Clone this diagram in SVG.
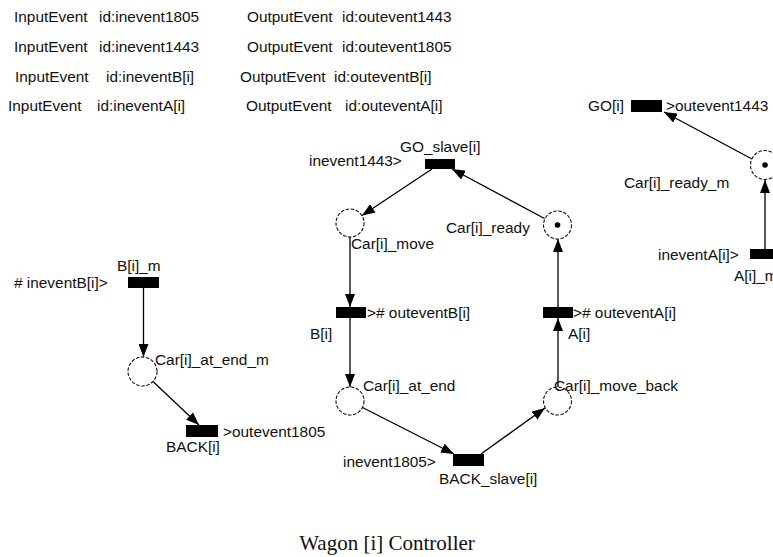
<svg xmlns="http://www.w3.org/2000/svg" width="773" height="557" viewBox="0 0 773 557">
  <style>
    text { font-family: "Liberation Sans", Arial, sans-serif; font-size: 15.4px; fill: #111; }
    .title { font-family: "Liberation Serif", "Times New Roman", serif; font-size: 21px; }
    .place { fill: #fff; stroke: #111; stroke-width: 1.1; stroke-dasharray: 3.5 1.6; }
    .token { fill: #000; }
    .trans { fill: #000; }
    .arc { fill: none; stroke: #000; stroke-width: 1.3; marker-end: url(#arrow); }
  </style>
  <defs>
    <marker id="arrow" markerUnits="userSpaceOnUse" markerWidth="13" markerHeight="10" refX="13" refY="5" orient="auto">
      <path d="M0,0 L13,5 L0,10 z" fill="#000"/>
    </marker>
  </defs>
  <rect width="773" height="557" fill="#fff"/>

  <!-- event declarations -->
  <g id="declarations">
    <text x="14" y="22">InputEvent</text>
    <text x="99" y="22">id:inevent1805</text>
    <text x="247" y="22">OutputEvent</text>
    <text x="342" y="22">id:outevent1443</text>
    <text x="14" y="52">InputEvent</text>
    <text x="99" y="52">id:inevent1443</text>
    <text x="247" y="52">OutputEvent</text>
    <text x="342" y="52">id:outevent1805</text>
    <text x="15" y="82">InputEvent</text>
    <text x="106" y="82">id:ineventB[i]</text>
    <text x="240" y="82">OutputEvent</text>
    <text x="334" y="82">id:outeventB[i]</text>
    <text x="8" y="111">InputEvent</text>
    <text x="97" y="111">id:ineventA[i]</text>
    <text x="246" y="111">OutputEvent</text>
    <text x="345" y="111">id:outeventA[i]</text>
  </g>

  <!-- arcs -->
  <g id="connectors">
    <line class="arc" x1="143.5" y1="288" x2="143.5" y2="357"/>
    <line class="arc" x1="153" y1="381.5" x2="199" y2="425"/>
    <line class="arc" x1="432" y1="169" x2="362" y2="215.5"/>
    <line class="arc" x1="350" y1="237" x2="350" y2="307"/>
    <line class="arc" x1="350" y1="318" x2="350" y2="387"/>
    <line class="arc" x1="362.5" y1="407.5" x2="454" y2="454"/>
    <line class="arc" x1="481" y1="454" x2="545" y2="408"/>
    <line class="arc" x1="558" y1="387" x2="558" y2="318"/>
    <line class="arc" x1="558" y1="307" x2="558" y2="239"/>
    <line class="arc" x1="544.5" y1="218.5" x2="452" y2="169"/>
    <line class="arc" x1="752" y1="159" x2="664" y2="112"/>
    <line class="arc" x1="765" y1="249" x2="765" y2="180"/>
  </g>

  <!-- left net -->
  <g id="B_m">
    <rect class="trans" x="128" y="277" width="31" height="11"/>
    <text x="117" y="271">B[i]_m</text>
    <text x="14" y="288"># ineventB[i]&gt;</text>
  </g>
  <g id="Car_at_end_m">
    <circle class="place" cx="142.5" cy="371.5" r="14.5"/>
    <text x="155" y="365">Car[i]_at_end_m</text>
  </g>
  <g id="BACK">
    <rect class="trans" x="186" y="425" width="32" height="12"/>
    <text x="223" y="437">&gt;outevent1805</text>
    <text x="166" y="452">BACK[i]</text>
  </g>

  <!-- centre net -->
  <g id="GO_slave">
    <rect class="trans" x="425" y="159" width="30" height="10"/>
    <text x="400" y="152">GO_slave[i]</text>
    <text x="309" y="166">inevent1443&gt;</text>
  </g>
  <g id="Car_move">
    <circle class="place" cx="350" cy="223" r="14"/>
    <text x="351" y="249">Car[i]_move</text>
  </g>
  <g id="B">
    <rect class="trans" x="336" y="307" width="30" height="11"/>
    <text x="367" y="318">&gt;# outeventB[i]</text>
    <text x="310" y="339">B[i]</text>
  </g>
  <g id="Car_at_end">
    <circle class="place" cx="350" cy="401" r="14"/>
    <text x="363" y="391">Car[i]_at_end</text>
  </g>
  <g id="BACK_slave">
    <rect class="trans" x="453" y="454" width="31" height="12"/>
    <text x="343" y="467">inevent1805&gt;</text>
    <text x="439" y="484">BACK_slave[i]</text>
  </g>
  <g id="Car_move_back">
    <circle class="place" cx="557.5" cy="401" r="14"/>
    <text x="554" y="391">Car[i]_move_back</text>
  </g>
  <g id="A">
    <rect class="trans" x="543" y="307" width="30" height="11"/>
    <text x="573" y="318">&gt;# outeventA[i]</text>
    <text x="568" y="339">A[i]</text>
  </g>
  <g id="Car_ready">
    <circle class="place" cx="557.5" cy="225" r="14"/>
    <circle class="token" cx="557.5" cy="225" r="2.8"/>
    <text x="446" y="233">Car[i]_ready</text>
  </g>

  <!-- right net -->
  <g id="GO">
    <rect class="trans" x="631" y="100" width="31" height="12"/>
    <text x="588" y="111">GO[i]</text>
    <text x="666" y="111">&gt;outevent1443</text>
  </g>
  <g id="Car_ready_m">
    <circle class="place" cx="765" cy="165" r="14.5"/>
    <circle class="token" cx="765" cy="165" r="2.8"/>
    <text x="624" y="188">Car[i]_ready_m</text>
  </g>
  <g id="A_m">
    <rect class="trans" x="750" y="249" width="31" height="10"/>
    <text x="658" y="260">ineventA[i]&gt;</text>
    <text x="734" y="281">A[i]_m</text>
  </g>

  <text class="title" x="387" y="550" text-anchor="middle">Wagon [i] Controller</text>
</svg>
